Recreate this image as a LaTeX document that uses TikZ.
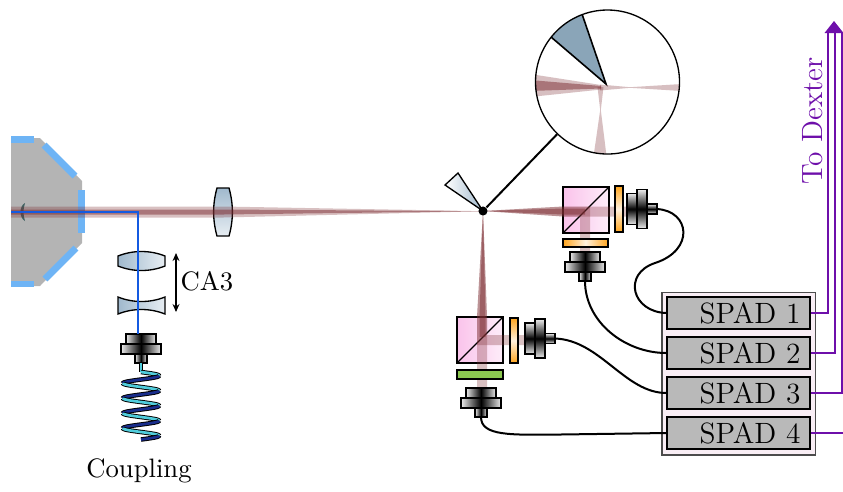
\documentclass[tikz,border=0pt]{standalone}
\usetikzlibrary{arrows.meta,calc}
\definecolor{chamber}{RGB}{180,180,180}
\definecolor{mirrorblue}{RGB}{110,180,245}
\definecolor{beamred}{RGB}{125,45,50}
\definecolor{laserblue}{RGB}{20,90,225}
\definecolor{lensblue}{RGB}{160,185,205}
\definecolor{wedgeblue}{RGB}{138,165,184}
\definecolor{plateorange}{RGB}{255,165,30}
\definecolor{plategreen}{RGB}{140,200,80}
\definecolor{cubepink}{RGB}{250,195,235}
\definecolor{spadgray}{RGB}{185,185,185}
\definecolor{panelpink}{RGB}{249,238,245}
\definecolor{dexter}{RGB}{110,15,170}
\definecolor{fibernavy}{RGB}{25,45,140}
\definecolor{fibercyan}{RGB}{80,205,220}

% fibre coupler, beam entering from above: centre x, top y, name of the fibre end
\newcommand\fibercouplerV[3]{%
  \begin{scope}[shift={(#1,#2)}]
    \path[cplv] (-15,0) rectangle (15,10);
    \path[cplv] (-20,10) rectangle (20,20);
    \path[cplv] (-6,20) rectangle (6,29);
    \coordinate (#3) at (0,29);
  \end{scope}}
% fibre coupler, beam entering from the left: left x, centre y, name of the fibre end
\newcommand\fibercouplerH[3]{%
  \begin{scope}[shift={(#1,#2)}]
    \path[cplh] (0,-15.5) rectangle (10,15.5);
    \path[cplh] (10,-19.5) rectangle (20,19.5);
    \path[cplh] (20,-5) rectangle (30,5);
    \coordinate (#3) at (30,0);
  \end{scope}}

\begin{document}
\begin{tikzpicture}[x=0.375pt,y=-0.375pt,
  outl/.style={draw=black,line width=0.5pt},
  mirror/.style={draw=mirrorblue,line width=2.6pt},
  beam/.style={fill=beamred,fill opacity=0.3},
  beamcore/.style={fill=beamred,fill opacity=0.5},
  lens/.style={outl,left color=lensblue,right color=lensblue!25},
  lensv/.style={outl,top color=lensblue,bottom color=lensblue!25},
  cube/.style={outl,left color=cubepink,right color=cubepink!30},
  plateV/.style={outl,top color=plateorange,bottom color=plateorange,middle color=white!85!plateorange},
  plateH/.style={outl,left color=plateorange,right color=plateorange,middle color=white!85!plateorange},
  plateG/.style={outl,fill=plategreen},
  cplv/.style={outl,left color=gray!15,right color=gray!15,middle color=black},
  cplh/.style={outl,top color=gray!15,bottom color=gray!15,middle color=black},
  cable/.style={line width=0.75pt,black},
  spad/.style={draw=black,line width=0.5pt,fill=spadgray,minimum width=53.6pt,
    minimum height=12pt,inner xsep=3.6pt,inner ysep=0pt,text width=46.4pt,align=right,
    font=\fontsize{11}{13}\selectfont},
  dexline/.style={draw=dexter,line width=0.6pt},
]
\useasboundingbox (0,0) rectangle (843,491);

% ---------------- vacuum chamber ----------------
\fill[chamber] (11,138) -- (40,138) -- (82,181) -- (82,243) -- (40,286) -- (11,286) -- cycle;
\draw[mirror] (11,139.5) -- (34,139.5);
\draw[mirror] (44,145) -- (75,176);
\draw[mirror] (81.5,190) -- (81.5,233);
\draw[mirror] (76,248) -- (45,279);
\draw[mirror] (11,284) -- (34,284);
\fill[black!60!teal!80!chamber,opacity=0.8] (25,203) .. controls (19,206) and (19,218) .. (25,221)
  .. controls (23,214) and (23,210) .. (25,203) -- cycle;

% ---------------- lenses ----------------
\path[lensv] (217,188) -- (229,188) .. controls (233.5,204) and (233.5,220) .. (229,236)
  -- (217,236) .. controls (212.5,220) and (212.5,204) .. (217,188) -- cycle;
\path[lens] (118,256) .. controls (133,250) and (150,250) .. (165,256) -- (165,266)
  .. controls (150,272) and (133,272) .. (118,266) -- cycle;
\path[lens] (118,297) .. controls (133,303) and (150,303) .. (165,297) -- (165,314)
  .. controls (150,308) and (133,308) .. (118,314) -- cycle;

% ---------------- beam splitter cubes ----------------
\path[cube] (563,187) rectangle (609,233);
\draw[line width=0.5pt] (563,233) -- (609,187);
\path[cube] (457,317) rectangle (503,363);
\draw[line width=0.5pt] (457,363) -- (503,317);

% ---------------- laser beams ----------------
\fill[beam] (11,206.5) -- (223,206.5) -- (483,211.2) -- (223,217.5) -- (11,217.5) -- cycle;
\fill[beamcore] (11,209.5) -- (223,209.5) -- (483,211.2) -- (223,214.5) -- (11,214.5) -- cycle;
% towards the upper cube
\fill[beam] (483,211) -- (563,206.5) -- (627,206.5) -- (627,216.5) -- (563,216.5) -- cycle;
\fill[beam] (483,211) -- (563,206.5) -- (590,206.5) -- (590,252) -- (580,252)
  -- (580,216.5) -- (563,216.5) -- cycle;
\fill[beamcore] (483,211) -- (563,208.5) -- (585,208.5) -- (585,214.5) -- (563,214.5) -- cycle;
% towards the lower cube
\fill[beam] (483,211) -- (477,317) -- (477,387) -- (487,387) -- (487,317) -- cycle;
\fill[beam] (483,211) -- (477,317) -- (477,345) -- (525,345) -- (525,335)
  -- (487,335) -- (487,317) -- cycle;
\fill[beamcore] (483,211) -- (479.5,317) -- (479.5,337) -- (485.5,337) -- (485.5,317) -- cycle;

% ---------------- wave plates ----------------
\path[plateV] (615,186) rectangle (623,232);
\path[plateH] (563,239) rectangle (608,247);
\path[plateV] (510,318) rectangle (518,363);
\path[plateG] (457,370) rectangle (503,379);

% ---------------- fibre couplers ----------------
\fibercouplerH{627}{209}{fR1}
\fibercouplerV{585}{252}{fD1}
\fibercouplerH{525}{338.5}{fR2}
\fibercouplerV{481}{388}{fD2}
\fibercouplerV{141}{334}{fA}

% ---------------- imaging laser path ----------------
\coordinate (trapL) at (11,212);
\coordinate (cplTop) at (138,334);
\draw[laserblue,line width=0.6pt] (trapL) -| (cplTop);
\draw[<->,>={Stealth[length=3pt,width=2.6pt]},line width=0.4pt] (176,253) -- (176,312);
\node[anchor=west,inner sep=0pt] (ca) at (180,281) {CA3};

% coiled fibre
\coordinate (coilTop) at (141,372);
\draw[black,line width=1.6pt] (fA) -- (coilTop);
\draw[fibercyan,line width=0.9pt] (fA) -- (coilTop);
\foreach \a/\b/\c in {0/90/fibercyan,90/270/fibernavy,270/450/fibercyan,450/630/fibernavy,
    630/810/fibercyan,810/990/fibernavy,990/1170/fibercyan,1170/1350/fibernavy,
    1350/1530/fibercyan,1530/1620/fibernavy}{
  \draw[black,line width=1.7pt] plot[domain=\a:\b,samples=25,smooth] ({141+18*sin(\x)},{372+\x/24});
  \draw[\c,line width=1.0pt] plot[domain=\a:\b,samples=25,smooth] ({141+18*sin(\x)},{372+\x/24});
}
\node (cpl) at (139,471) {Coupling};

% ---------------- focus, knife edge, magnified view ----------------
\path[outl,left color=white,right color=lensblue] (445,185) -- (458,173) -- (483,211) -- cycle;
\node[circle,fill=black,inner sep=0pt,minimum size=3.4pt] (focus) at (483,211) {};

\fill[white] (607.5,82) circle (72);
\begin{scope}
  \clip (607.5,82) circle (72);
  \fill[wedgeblue] (606,84) -- (523.5,13.5) -- (570,-21) -- cycle;
  \draw[line width=0.6pt] (523.5,13.5) -- (606,84) -- (570,-21);
  \fill[beam] (530,74) -- (601,85) -- (601,89.5) -- (530,97) -- cycle;
  \fill[beamcore] (530,80) -- (601,86) -- (601,88.5) -- (530,91) -- cycle;
  \fill[beam] (600,84.5) -- (630,87.2) -- (690,83.5) -- (690,91.5) -- (630,87.8) -- (600,90.5) -- cycle;
  \fill[beam] (597.5,87) -- (600.2,110) -- (593,160) -- (607,160) -- (600.8,110) -- (603.5,87) -- cycle;
\end{scope}
\node[circle,draw=black,line width=0.5pt,minimum size=54pt,inner sep=0pt] (inset) at (607.5,82) {};
\draw[line width=0.75pt] (focus) -- (inset);

% ---------------- detectors ----------------
\node[draw=black!70,line width=0.4pt,fill=panelpink,minimum width=57.4pt,minimum height=61.1pt,
  inner sep=0pt] (panel) at (738.5,373.5) {};
\node[spad] (s1) at (738.5,313) {SPAD 1};
\node[spad] (s2) at (738.5,353) {SPAD 2};
\node[spad] (s3) at (738.5,393) {SPAD 3};
\node[spad] (s4) at (738.5,433) {SPAD 4};

% fibres to the detectors
\draw[cable] (fR1) .. controls (690,211) and (695,250) .. (655,263)
  .. controls (622,274) and (632,312) .. (s1.west);
\draw[cable] (fD1) .. controls (585,322) and (625,353) .. (s2.west);
\draw[cable] (fR2) .. controls (600,340) and (625,393) .. (s3.west);
\draw[cable] (fD2) .. controls (481,436) and (510,435) .. (560,434.5) -- (s4.west);

% signal lines
\coordinate (up1) at (828,33);
\coordinate (up2) at (835,33);
\coordinate (up3) at (842,33);
\coordinate (out4) at (846,433);
\draw[dexline] (s1.east) -| (up1);
\draw[dexline] (s2.east) -| (up2);
\draw[dexline] (s3.east) -| (up3);
\draw[dexline] (s4.east) -- (out4);
\fill[dexter] (824.5,33) -- (843.5,33) -- (834,21) -- cycle;
\node[rotate=90,text=dexter,font=\fontsize{11}{13}\selectfont] (dex) at (813,121) {To Dexter};
\end{tikzpicture}
\end{document}
